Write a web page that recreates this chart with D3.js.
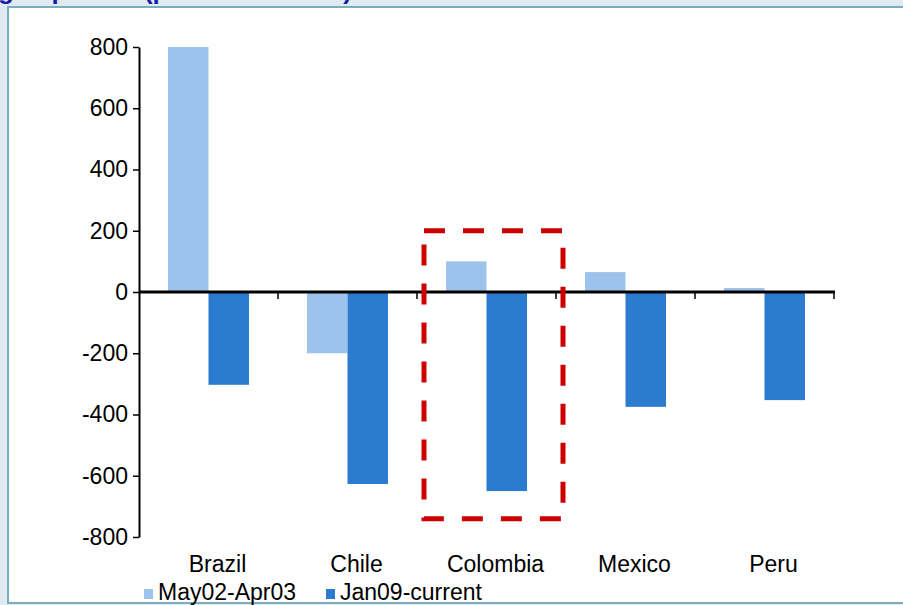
<!DOCTYPE html>
<html>
<head>
<meta charset="utf-8">
<script src="https://cdn.jsdelivr.net/npm/d3@7"></script>
<style>
  body { margin: 0; background: #dfeaf1; }
  svg { display: block; font-family: "Liberation Sans", Arial, sans-serif; }
</style>
</head>
<body>
<svg id="chart" width="903" height="605"></svg>
<script>
// data
var categories = ['Brazil', 'Chile', 'Colombia', 'Mexico', 'Peru']
var seriesNames = ['May02-Apr03', 'Jan09-current']
var may02Apr03 = [800, -200, 100, 65, 13]
var jan09Current = [-303, -627, -650, -375, -353]
var yTicks = [-800, -600, -400, -200, 0, 200, 400, 600, 800]
var highlight = {category: 'Colombia', top: 200, bottom: -740}

var colors = ['#9dc3ec', '#2b7bd0']

var svg = d3.select('#chart')
var W = 903
var H = 605

// panel
svg.append('rect')
    .attr('x', 0).attr('y', 0).attr('width', W).attr('height', H)
    .style('fill', '#dfeaf1')
svg.append('rect')
    .attr('x', 8).attr('y', 7).attr('width', W + 10).attr('height', 596)
    .style('fill', '#fff')
    .style('stroke', '#7aaebf')
    .style('stroke-width', 2)

// title, cut off by the top edge as in the picture
svg.append('text')
    .attr('x', 352).attr('y', -1)
    .attr('text-anchor', 'end')
    .style('font-size', '26px')
    .style('font-weight', 'bold')
    .style('fill', '#1c1ca8')
    .text('Change in sovereign spreads (percent to 1000)')

var x0 = d3.scaleBand()
    .domain(categories)
    .range([139, 834])
    .paddingInner(0)
    .paddingOuter(0)

var x1 = d3.scaleBand()
    .domain(seriesNames)
    .range([0, x0.bandwidth()])
    .paddingInner(0)
    .paddingOuter(0.716)

var y = d3.scaleLinear()
    .domain([-800, 800])
    .range([537, 47])

var rows = categories.map((c, i) => ({
  key: c,
  values: [may02Apr03[i], jan09Current[i]]
}))

// bars
var groups = svg.append('g').selectAll('g')
    .data(rows)
    .enter()
    .append('g')
    .attr('transform', d => `translate(${x0(d.key)},0)`)

groups.selectAll('rect')
    .data(d => d.values.map((v, j) => ({name: seriesNames[j], v: v, j: j})))
    .enter()
    .append('rect')
    .attr('x', d => x1(d.name))
    .attr('width', x1.bandwidth())
    .attr('y', d => Math.min(y(d.v), y(0)))
    .attr('height', d => Math.abs(y(d.v) - y(0)))
    .style('fill', d => colors[d.j])

// y axis
var yAxis = svg.append('g')
    .attr('transform', 'translate(139,0)')
    .call(d3.axisLeft(y)
        .tickValues(yTicks)
        .tickFormat(d => String(d))
        .tickSize(6)
        .tickSizeOuter(0)
        .tickPadding(5))
yAxis.select('.domain').style('stroke', '#000').style('stroke-width', 2)
yAxis.selectAll('.tick line').style('stroke', '#000').style('stroke-width', 1.5)
yAxis.selectAll('.tick text')
    .style('font-size', '23px')
    .style('fill', '#000')
    .style('font-family', '"Liberation Sans", Arial, sans-serif')

// x axis at zero
var xTickPos = categories.map(c => x0(c) + x0.bandwidth())
var xAxis = svg.append('g')
    .attr('transform', `translate(0,${y(0)})`)
xAxis.append('line')
    .attr('x1', 139).attr('x2', 835)
    .style('stroke', '#000').style('stroke-width', 3)
xAxis.selectAll('line.tk')
    .data(xTickPos)
    .enter()
    .append('line')
    .attr('class', 'tk')
    .attr('x1', d => d).attr('x2', d => d)
    .attr('y1', 0).attr('y2', 7)
    .style('stroke', '#000').style('stroke-width', 1.5)

// category labels at the bottom (sit a little right of band centre)
svg.append('g').selectAll('text')
    .data(categories)
    .enter()
    .append('text')
    .attr('x', d => x0(d) + x0.bandwidth() / 2 + 9)
    .attr('y', 572)
    .attr('text-anchor', 'middle')
    .style('font-size', '23px')
    .style('fill', '#000')
    .text(d => d)

// highlight box
var hx = x0(highlight.category)
svg.append('rect')
    .attr('x', hx + 7)
    .attr('y', y(highlight.top))
    .attr('width', x0.bandwidth())
    .attr('height', y(highlight.bottom) - y(highlight.top))
    .style('fill', 'none')
    .style('stroke', '#cc0000')
    .style('stroke-width', 5)
    .style('stroke-dasharray', '21,18')

// legend
var legendX = [144, 326]
var legend = svg.append('g').selectAll('g')
    .data(seriesNames)
    .enter()
    .append('g')
    .attr('transform', (d, i) => `translate(${legendX[i]},600)`)
legend.append('rect')
    .attr('x', 0).attr('y', -11)
    .attr('width', 9).attr('height', 10)
    .style('fill', (d, i) => colors[i])
legend.append('text')
    .attr('x', 14).attr('y', 0)
    .style('font-size', '23px')
    .style('fill', '#000')
    .text(d => d)
</script>
</body>
</html>
